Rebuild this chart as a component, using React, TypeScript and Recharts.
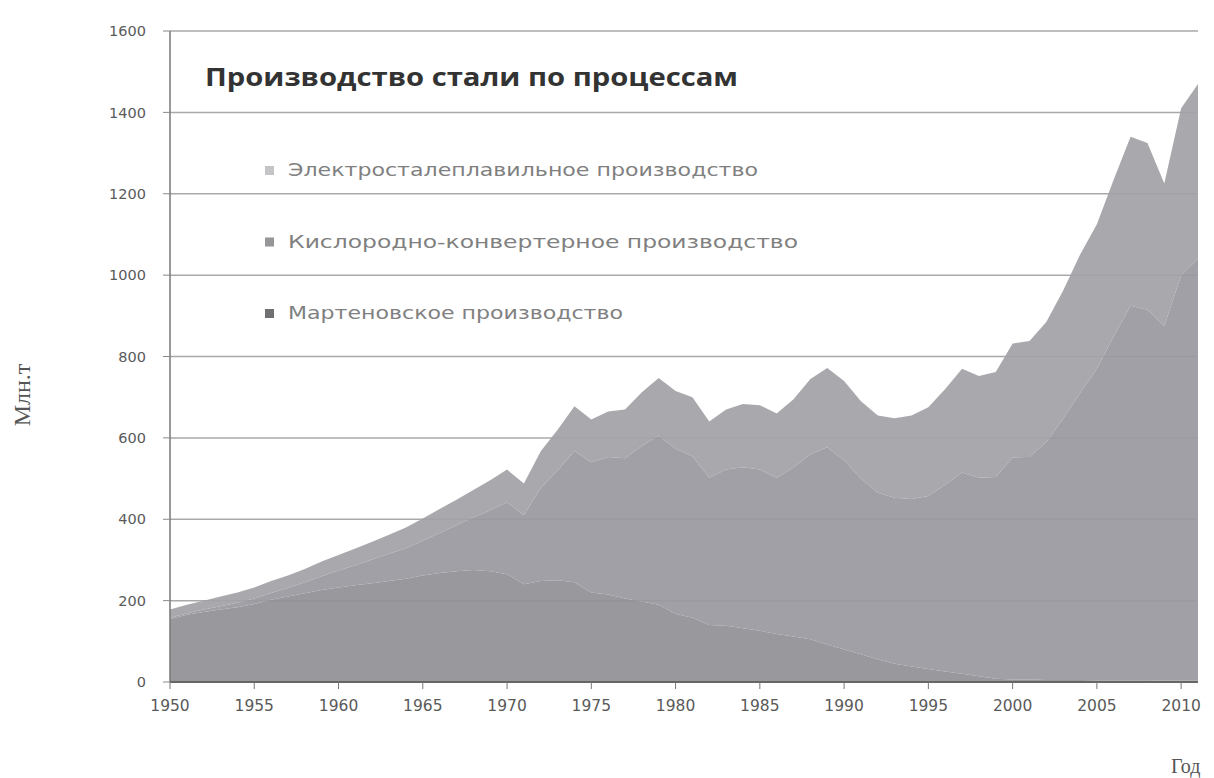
import { AreaChart, Area, XAxis, YAxis, CartesianGrid, Legend } from 'recharts';

// World crude steel output by process, Mt
const years = [
  1950, 1951, 1952, 1953, 1954, 1955, 1956, 1957, 1958, 1959,
  1960, 1961, 1962, 1963, 1964, 1965, 1966, 1967, 1968, 1969,
  1970, 1971, 1972, 1973, 1974, 1975, 1976, 1977, 1978, 1979,
  1980, 1981, 1982, 1983, 1984, 1985, 1986, 1987, 1988, 1989,
  1990, 1991, 1992, 1993, 1994, 1995, 1996, 1997, 1998, 1999,
  2000, 2001, 2002, 2003, 2004, 2005, 2006, 2007, 2008, 2009,
  2010, 2011,
];

const openHearth = [
  155, 165, 172, 178, 184, 192, 202, 210, 218, 226,
  232, 238, 243, 248, 254, 262, 268, 272, 275, 272,
  265, 240, 248, 250, 245, 220, 215, 205, 198, 190,
  168, 158, 140, 138, 132, 126, 118, 112, 105, 92,
  80, 68, 55, 45, 38, 32, 26, 20, 14, 8,
  6, 6, 5, 5, 5, 4, 4, 4, 4, 3,
  3, 3,
];

const oxygen = [
  3, 4, 6, 8, 11, 13, 17, 21, 27, 34,
  42, 49, 58, 67, 75, 85, 98, 113, 129, 150,
  177, 170, 229, 270, 323, 320, 338, 345, 382, 415,
  405, 397, 362, 384, 396, 396, 384, 415, 455, 485,
  465, 432, 410, 408, 412, 425, 459, 495, 488, 496,
  546, 547, 585, 642, 705, 766, 846, 921, 911, 872,
  997, 1037,
];

const electric = [
  20, 21, 22, 24, 25, 27, 29, 31, 33, 36,
  38, 41, 44, 47, 51, 55, 59, 63, 68, 74,
  80, 78, 90, 100, 110, 105, 112, 120, 132, 142,
  142, 145, 138, 148, 155, 158, 158, 168, 185, 195,
  195, 190, 190, 195, 205, 218, 235, 255, 250, 258,
  280, 285, 295, 315, 340, 355, 385, 415, 410, 350,
  410, 430,
];

const xTicks = [1950, 1955, 1960, 1965, 1970, 1975, 1980, 1985, 1990, 1995, 2000, 2005, 2010];
const yTicks = [0, 200, 400, 600, 800, 1000, 1200, 1400, 1600];

const series = [
  { key: 'electric', name: 'Электросталеплавильное производство', color: '#a1a1a7', swatch: '#c4c4c6', len: 470 },
  { key: 'oxygen', name: 'Кислородно-конвертерное производство', color: '#99999f', swatch: '#969698', len: 510 },
  { key: 'openHearth', name: 'Мартеновское производство', color: '#909096', swatch: '#707073', len: 335 },
];

const data = years.map((year, i) => ({
  year,
  openHearth: openHearth[i],
  oxygen: oxygen[i],
  electric: electric[i],
}));

const ProcessLegend = () => (
  <svg width={560} height={190} style={{ display: 'block' }}>
    {series.map((s, i) => (
      <g key={s.key} transform={`translate(0, ${i * 71.5})`}>
        <rect x={7} y={18} width={9} height={9} fill={s.swatch} />
        <text
          x={30}
          y={28}
          fontSize={17}
          fontFamily="'DejaVu Sans', sans-serif"
          fill="#808080"
          textLength={s.len}
          lengthAdjust="spacingAndGlyphs"
        >
          {s.name}
        </text>
      </g>
    ))}
  </svg>
);

export default function App() {
  return (
    <div style={{ position: 'absolute', left: 0, top: 0, width: 1214, height: 778, background: '#fff' }}>
      <AreaChart
        width={1214}
        height={778}
        data={data}
        margin={{ top: 31, right: 16, left: 110, bottom: 66 }}
      >
        <CartesianGrid vertical={false} stroke="#a9a9a9" strokeWidth={1.5} />
        <XAxis
          type="number"
          dataKey="year"
          domain={[1950, 2011]}
          ticks={xTicks}
          interval={0}
          height={30}
          axisLine={{ stroke: '#666', strokeWidth: 2 }}
          tickLine={{ stroke: '#777' }}
          tickSize={7}
          tickMargin={11}
          tick={{ fill: '#5a5a5a', fontSize: 15.5, fontFamily: "'DejaVu Sans', sans-serif" }}
        />
        <YAxis
          domain={[0, 1600]}
          ticks={yTicks}
          interval={0}
          width={60}
          axisLine={{ stroke: '#777', strokeWidth: 1.5 }}
          tickLine={{ stroke: '#888' }}
          tickSize={7}
          tickMargin={17}
          tick={{ fill: '#5a5a5a', fontSize: 14.5, fontFamily: "'DejaVu Sans', sans-serif" }}
        />
        <Legend
          layout="horizontal"
          verticalAlign="middle"
          align="center"
          wrapperStyle={{ left: 258, top: 148, width: 560 }}
          content={<ProcessLegend />}
        />
        {[...series].reverse().map((s) => (
          <Area
            key={s.key}
            type="linear"
            dataKey={s.key}
            name={s.name}
            stackId="steel"
            stroke="none"
            fill={s.color}
            fillOpacity={0.93}
            isAnimationActive={false}
          />
        ))}
      </AreaChart>
      <svg
        width={1214}
        height={778}
        style={{ position: 'absolute', left: 0, top: 0, pointerEvents: 'none' }}
      >
        <text
          x={205}
          y={86}
          fontSize={25}
          fontWeight="bold"
          fontFamily="'Open Sans', 'DejaVu Sans', sans-serif"
          fill="#333"
          textLength={533}
          lengthAdjust="spacingAndGlyphs"
        >
          Производство стали по процессам
        </text>
        <text
          x={0}
          y={0}
          transform="translate(30, 395) rotate(-90)"
          textAnchor="middle"
          fontSize={24}
          fontFamily="'Liberation Serif', serif"
          fill="#555"
        >
          Млн.т
        </text>
        <text
          x={1171}
          y={773}
          fontSize={20}
          fontFamily="'Liberation Serif', serif"
          fill="#555"
        >
          Год
        </text>
      </svg>
    </div>
  );
}
